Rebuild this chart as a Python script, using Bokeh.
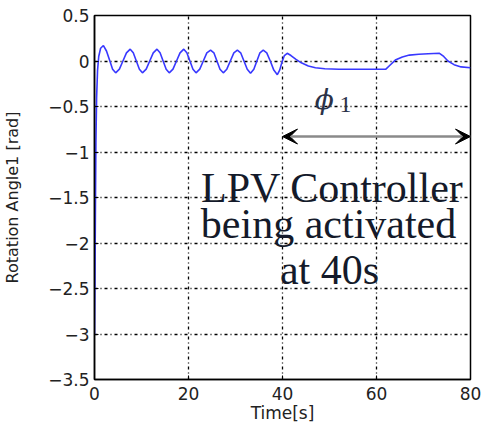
from bokeh.plotting import figure
from bokeh.models import Range1d, FixedTicker, Label, Arrow, VeeHead, ColumnDataSource
from bokeh.embed import file_html
from bokeh.resources import INLINE

# ---- data ----
time_s = [0.0, 0.1, 0.2, 0.3, 0.45, 0.65, 0.9, 1.3, 1.9, 2.55, 3.2, 3.85, 4.5,
          5.3, 6.05, 6.8, 7.6, 8.25, 8.9, 9.55, 10.2, 11.0, 11.75, 12.5, 13.3,
          13.95, 14.6, 15.25, 15.9, 16.7, 17.45, 18.2, 19.0, 19.65, 20.3, 20.95,
          21.6, 22.4, 23.15, 23.9, 24.7, 25.4, 26.05, 26.7, 27.4, 28.15, 28.9,
          29.65, 30.4, 31.1, 31.8, 32.5, 33.2, 33.9, 34.55, 35.2, 35.9, 36.65,
          37.4, 38.15, 38.9, 39.4, 39.9, 40.4, 41.0, 41.8, 42.8, 44.0, 45.5,
          47.0, 49.0, 52.0, 62.0, 62.8, 64.0, 65.5, 67.0, 69.0, 71.0, 73.4,
          74.3, 75.2, 76.5, 78.0, 80.0]
angle_rad = [-3.00, -2.40, -1.60, -0.90, -0.40, -0.10, 0.05, 0.14, 0.17, 0.11,
             0.01, -0.09, -0.13, -0.09, 0.00, 0.09, 0.13, 0.09, 0.00, -0.09,
             -0.13, -0.09, 0.00, 0.09, 0.13, 0.09, 0.00, -0.09, -0.13, -0.09,
             0.00, 0.09, 0.13, 0.09, 0.00, -0.09, -0.13, -0.09, 0.00, 0.09,
             0.12, 0.09, 0.00, -0.09, -0.13, -0.09, 0.00, 0.09, 0.12, 0.09,
             0.00, -0.09, -0.135, -0.09, 0.00, 0.09, 0.12, 0.09, 0.00, -0.10,
             -0.15, -0.10, -0.01, 0.06, 0.085, 0.06, 0.02, -0.02, -0.055,
             -0.075, -0.085, -0.09, -0.09, -0.05, 0.01, 0.045, 0.065, 0.075,
             0.08, 0.085, 0.05, 0.00, -0.04, -0.065, -0.075]

x_ticks = [0, 20, 40, 60, 80]
y_ticks = [0.5, 0.0, -0.5, -1.0, -1.5, -2.0, -2.5, -3.0, -3.5]
y_tick_labels = ["0.5", "0", "\u22120.5", "\u22121", "\u22121.5", "\u22122",
                 "\u22122.5", "\u22123", "\u22123.5"]

# annotation anchors (data units)
arrow_x = [40, 80]
arrow_y = -0.83
text_x = [50.6, 49.8, 50.0]
text_y = [-1.396, -1.79, -2.297]
text_lines = ["LPV Controller", "being activated", "at 40s"]

p = figure(frame_width=376, frame_height=364,
           min_border_left=94, min_border_right=14, min_border_top=15,
           min_border_bottom=46,
           x_range=Range1d(0, 80), y_range=Range1d(-3.5, 0.5),
           output_backend="svg", toolbar_location=None)

p.background_fill_color = "white"
p.border_fill_color = "white"
p.outline_line_color = "black"
p.outline_line_width = 1.5

src = ColumnDataSource(dict(t=time_s, a=angle_rad))
p.line("t", "a", source=src, line_color="#3838ff", line_width=1.6)

# axes
p.xaxis.ticker = FixedTicker(ticks=x_ticks)
p.yaxis.ticker = FixedTicker(ticks=y_ticks)
p.yaxis.major_label_overrides = {v: s for v, s in zip(y_ticks, y_tick_labels)}
for ax in (p.xaxis[0], p.yaxis[0]):
    ax.axis_line_color = "black"
    ax.axis_line_width = 1.5
    ax.major_tick_in = 4
    ax.major_tick_out = 0
    ax.minor_tick_in = 0
    ax.minor_tick_out = 0
    ax.major_tick_line_color = "black"
    ax.major_label_text_font = "DejaVu Sans"
    ax.major_label_text_font_size = "17px"
    ax.major_label_text_color = "#222222"
    ax.axis_label_text_font = "DejaVu Sans"
    ax.axis_label_text_font_style = "normal"
    ax.axis_label_text_color = "#222222"

p.xaxis.axis_label = "Time[s]"
p.xaxis.axis_label_text_font_size = "17px"
p.xaxis.major_label_standoff = 7
p.xaxis.axis_label_standoff = 0

p.yaxis.axis_label = "Rotation Angle1 [rad]"
p.yaxis.axis_label_text_font_size = "16px"
p.yaxis.major_label_standoff = 5
p.yaxis.axis_label_standoff = 23

# grid
for g in (p.xgrid[0], p.ygrid[0]):
    g.grid_line_color = "black"
    g.grid_line_width = 1.3
    g.grid_line_dash = "3 3 1 3"
p.xgrid.ticker = FixedTicker(ticks=x_ticks[1:-1])
p.ygrid.ticker = FixedTicker(ticks=y_ticks[1:-1])

# annotations
p.add_layout(Arrow(x_start=arrow_x[0], x_end=arrow_x[1], y_start=arrow_y, y_end=arrow_y,
                   start=VeeHead(size=15, fill_color="black", line_color="black"),
                   end=VeeHead(size=15, fill_color="black", line_color="black"),
                   line_color="#8a8a8a", line_width=2.5))

p.add_layout(Label(x=48.9, y=-0.418, text="\u03d5", text_font="DejaVu Serif",
                   text_font_style="italic", text_font_size="28px",
                   text_align="center", text_baseline="middle", text_color="#2b3248"))
p.add_layout(Label(x=53.4, y=-0.473, text="1", text_font="Liberation Serif",
                   text_font_size="24px", text_align="center",
                   text_baseline="middle", text_color="#2b3248"))

for tx, ty, tl in zip(text_x, text_y, text_lines):
    p.add_layout(Label(x=tx, y=ty, text=tl, text_font="Liberation Serif",
                       text_font_size="42px", text_align="center",
                       text_baseline="alphabetic", text_color="#141a2a"))

open("out.html", "w").write(file_html(p, INLINE))
